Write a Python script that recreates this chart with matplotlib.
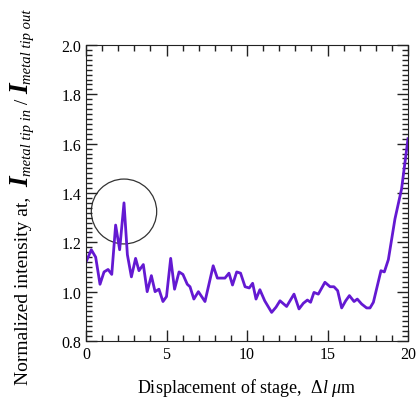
import numpy as np
import matplotlib
matplotlib.use('Agg')
import matplotlib.pyplot as plt
from matplotlib.patches import Ellipse
from matplotlib.ticker import MultipleLocator

plt.rcParams['font.family'] = ['Liberation Serif', 'DejaVu Serif']
plt.rcParams['mathtext.fontset'] = 'custom'
plt.rcParams['mathtext.rm'] = 'Liberation Serif'
plt.rcParams['mathtext.it'] = 'Liberation Serif:italic'
plt.rcParams['mathtext.bf'] = 'Liberation Serif:bold'

#Data
displacement = [0.0, 0.33, 0.6, 0.87, 1.12, 1.37, 1.6, 1.84, 2.09, 2.36, 2.57, 2.82,
                3.08, 3.29, 3.56, 3.8, 4.06, 4.29, 4.53, 4.78, 5.0, 5.26, 5.5, 5.78,
                6.02, 6.29, 6.46, 6.7, 6.98, 7.39, 7.9, 8.16, 8.63, 8.88, 9.1, 9.36,
                9.6, 9.88, 10.14, 10.35, 10.56, 10.8, 11.1, 11.53, 11.8, 12.05, 12.46,
                12.92, 13.23, 13.5, 13.75, 13.95, 14.16, 14.43, 14.84, 15.16, 15.4,
                15.63, 15.88, 16.13, 16.36, 16.65, 16.85, 17.12, 17.43, 17.64, 17.85,
                18.32, 18.53, 18.78, 19.19, 19.6, 20.0]
intensity = [1.12, 1.17, 1.14, 1.03, 1.08, 1.09, 1.07, 1.27, 1.17, 1.36, 1.15, 1.06,
             1.135, 1.085, 1.11, 1.0, 1.065, 1.0, 1.01, 0.96, 0.98, 1.135, 1.01, 1.08,
             1.07, 1.03, 1.02, 0.97, 1.0, 0.96, 1.105, 1.055, 1.055, 1.075, 1.027, 1.08,
             1.075, 1.02, 1.015, 1.034, 0.97, 1.008, 0.963, 0.916, 0.937, 0.963, 0.94,
             0.99, 0.93, 0.953, 0.966, 0.957, 0.997, 0.99, 1.038, 1.02, 1.02,
             1.004, 0.934, 0.963, 0.984, 0.96, 0.97, 0.95, 0.934, 0.934, 0.957,
             1.085, 1.08, 1.13, 1.295, 1.416, 1.62]

fig = plt.figure(figsize=(4.17, 4.06), dpi=100)
ax = fig.add_axes([86/417, 1 - 342/406, 322/417, 296/406])

ax.plot(displacement, intensity, color='#6419d2', lw=2)

#circle around the peak
ax.add_patch(Ellipse((2.36, 1.325), 4.06, 0.263, fill=False, ec='#333333', lw=0.9))

ax.set_xlim(0, 20)
ax.set_ylim(0.8, 2.0)
ax.xaxis.set_major_locator(MultipleLocator(5))
ax.xaxis.set_minor_locator(MultipleLocator(1))
ax.yaxis.set_major_locator(MultipleLocator(0.2))
ax.yaxis.set_minor_locator(MultipleLocator(0.02))
ax.yaxis.set_major_formatter(plt.FormatStrFormatter('%.1f'))
ax.tick_params(which='both', direction='in', top=True, right=True, labelsize=11.5, color='#222222')
ax.tick_params(which='major', length=8, width=1)
ax.tick_params(which='minor', length=4, width=1)
for s in ax.spines.values():
    s.set_color('#222222')

ax.set_xlabel(r'Displacement of stage,  $\mathit{\Delta l}\ \mu$m', fontsize=13, labelpad=10)

#y label built from pieces so the I can be bigger than the rest
pieces = [('Normalized intensity at,  ', 14, 'normal', 'normal', 0),
          ('I', 19.5, 'italic', 'bold', 0),
          ('metal tip in', 10.5, 'italic', 'normal', 3.5),
          (' / ', 14, 'normal', 'normal', 0),
          ('I', 19.5, 'italic', 'bold', 0),
          ('metal tip out', 10.5, 'italic', 'normal', 3.5)]
renderer = fig.canvas.get_renderer()
base_x = 28
y = 406 - 385
for txt, size, style, weight, drop in pieces:
    t = fig.text((base_x + drop) / 417, y / 406, txt, rotation=90, rotation_mode='anchor',
                 ha='left', va='baseline', fontsize=size, style=style, weight=weight)
    y += t.get_window_extent(renderer).height

plt.savefig('out.png', dpi=100)
